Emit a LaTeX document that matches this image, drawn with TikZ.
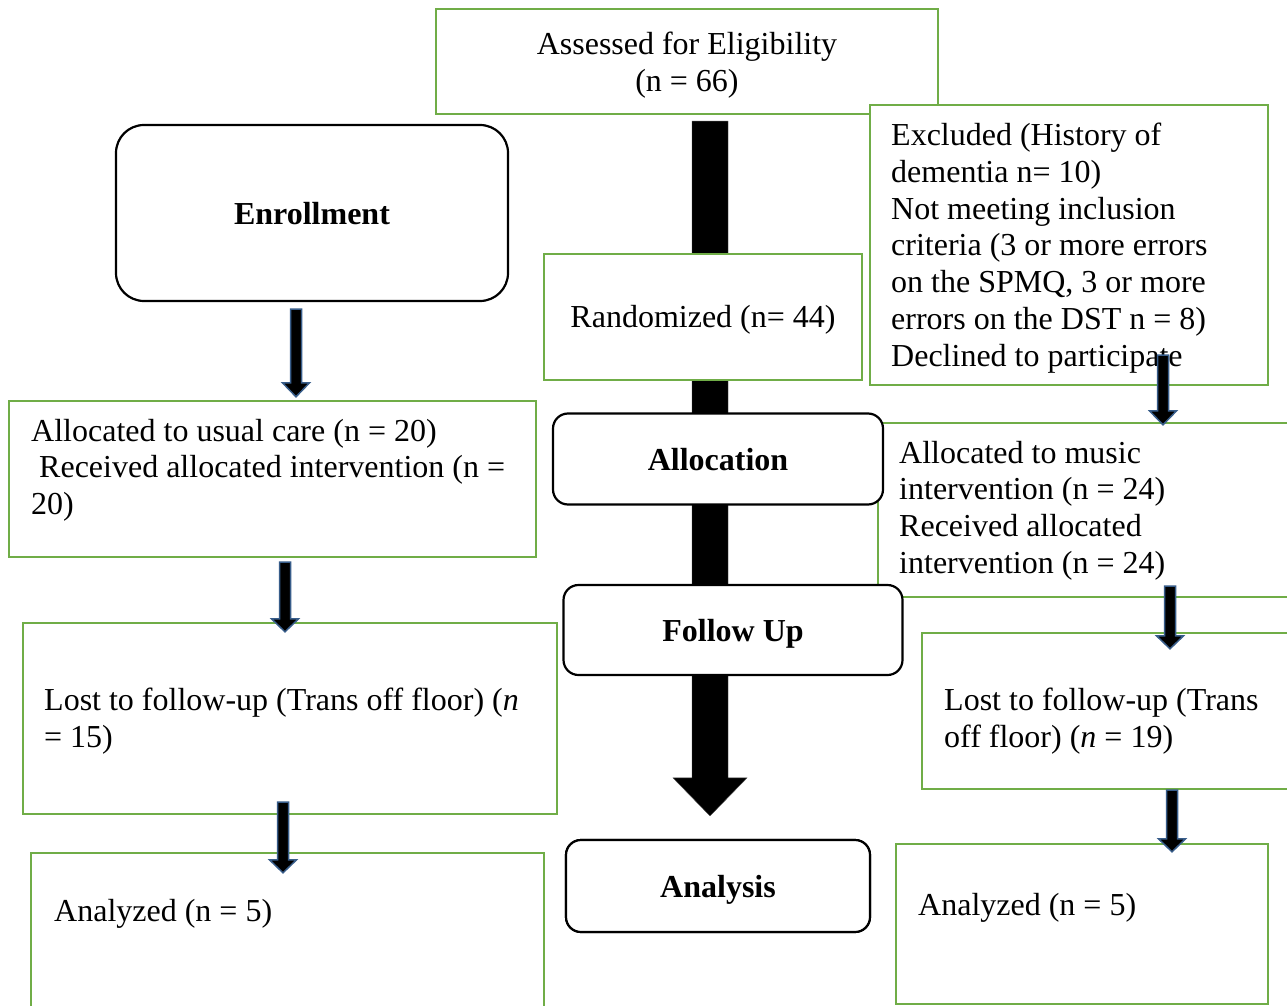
\documentclass[tikz,border=0pt]{standalone}
\usepackage{fontspec}
\setmainfont{Liberation Serif}
\usetikzlibrary{calc}
\definecolor{boxgreen}{RGB}{112,173,71}
\definecolor{arrowblue}{RGB}{56,93,138}
\newcommand\blockarrow[6]{%
  \path[#1] let \p1=#5, \p2=#6 in
    (\x1-#2,\y1) -- (\x1+#2,\y1) -- (\x1+#2,\y2+#4) -- (\x1+#3,\y2+#4)
    -- (\x1,\y2) -- (\x1-#3,\y2+#4) -- (\x1-#2,\y2+#4) -- cycle;}
\tikzset{
  gbox/.style={draw=boxgreen, line width=2.4pt, fill=white, inner sep=0pt},
  rbox/.style={draw=black, line width=2.2pt, fill=white, inner sep=0pt,
    font=\fontsize{32}{37}\selectfont\bfseries, text height=22pt, text depth=0pt},
  txt/.style={inner sep=0pt, align=flush left, anchor=base west,
    font=\fontsize{32}{36.8}\selectfont},
  ctxt/.style={inner sep=0pt, align=flush center, anchor=base,
    font=\fontsize{32}{37}\selectfont},
  smallarrow/.style={fill=black, draw=arrowblue, line width=1.5pt, line join=miter},
  bigarrow/.style={fill=black, draw=black!70, line width=0.4pt},
}
\begin{document}
\begin{tikzpicture}[x=1pt, y=-1pt]
\path[use as bounding box] (0,0) rectangle (1287,1006);
\clip (0,0) rectangle (1287,1006);
\fill[white] (0,0) rectangle (1287,1006);

% boxes (frames)
\node[gbox, minimum width=502pt, minimum height=105pt] (assess) at (687,61.5) {};
\node[rbox, rounded corners=15pt, minimum width=304pt, minimum height=92pt] (analysis) at (718,886) {Analysis};

% central arrow (behind the stage boxes)
\blockarrow{bigarrow}{18pt}{37pt}{38pt}{($(assess.south)+(23,6)$)}{($(analysis.north)+(0,-23)$)}

\node[gbox, minimum width=502pt, minimum height=105pt] at (assess) {};
\node[ctxt, text width=480pt] (assessT) at (687,54.5) {Assessed for Eligibility\\(n = 66)};

\node[gbox, minimum width=398pt, minimum height=280pt] (excl) at (1069,245) {};
\node[txt, text width=362pt] (exclT) at (891,145.5) {Excluded (History of\\dementia n= 10)\\Not meeting inclusion\\criteria (3 or more errors\\on the SPMQ, 3 or more\\errors on the DST n = 8)\\Declined to participate};

\node[rbox, rounded corners=28pt, minimum width=392pt, minimum height=176pt] (enroll) at (312,213) {Enrollment};

\node[gbox, minimum width=318pt, minimum height=126pt] (rand) at (703,317) {};
\node[ctxt] (randT) at (703,327) {Randomized (n= 44)};

\node[gbox, minimum width=527pt, minimum height=156pt] (usual) at (272.5,479) {};
\node[txt, text width=495pt] (usualT) at (31,441) {Allocated to usual care (n = 20)\\\hspace*{8pt}Received allocated intervention (n =\\20)};

\node[gbox, minimum width=422pt, minimum height=174pt] (music) at (1089,510) {};
\node[txt, text width=380pt] (musicT) at (899,463) {Allocated to music\\intervention (n = 24)\\Received allocated\\intervention (n = 24)};

\node[rbox, rounded corners=15pt, minimum width=330pt, minimum height=91pt] (alloc) at (718,459) {Allocation};
\node[rbox, rounded corners=15pt, minimum width=339pt, minimum height=90pt] (follow) at (733,630) {Follow Up};

\node[gbox, minimum width=534pt, minimum height=191pt] (lostL) at (290,718.5) {};
\node[txt, text width=500pt] (lostLT) at (44,710.5) {Lost to follow-up (Trans off floor) (\textit{n}\\= 15)};

\node[gbox, minimum width=378pt, minimum height=156pt] (lostR) at (1111,711) {};
\node[txt, text width=340pt] (lostRT) at (944,710.5) {Lost to follow-up (Trans\\off floor) (\textit{n} = 19)};

\node[rbox, rounded corners=15pt, minimum width=304pt, minimum height=92pt] at (analysis) {Analysis};

\node[gbox, minimum width=513pt, minimum height=159pt] (anL) at (287.5,932.5) {};
\node[txt, text width=470pt] (anLT) at (54,921.5) {Analyzed (n = 5)};

\node[gbox, minimum width=372pt, minimum height=160pt] (anR) at (1082,924) {};
\node[txt, text width=330pt] (anRT) at (918,915.5) {Analyzed (n = 5)};

% small block arrows
\blockarrow{smallarrow}{5.5pt}{13.5pt}{14pt}{($(enroll.south)+(-16,7)$)}{($(usual.north)+(0,-3)$)}
\blockarrow{smallarrow}{5.5pt}{13.5pt}{13pt}{($(usual.south)+(12.5,4)$)}{($(lostL.north)+(0,10)$)}
\blockarrow{smallarrow}{5.5pt}{13.5pt}{13pt}{($(lostL.south)+(-7,-13)$)}{($(anL.north)+(0,21)$)}
\blockarrow{smallarrow}{5.5pt}{13.5pt}{14pt}{($(excl.south)+(94,-31)$)}{($(music.north)+(0,3)$)}
\blockarrow{smallarrow}{5.5pt}{13.5pt}{13pt}{($(music.south)+(81,-12)$)}{($(lostR.north)+(0,17)$)}
\blockarrow{smallarrow}{5.5pt}{13.5pt}{13pt}{($(lostR.south)+(61,0)$)}{($(anR.north)+(0,9)$)}
\end{tikzpicture}
\end{document}
